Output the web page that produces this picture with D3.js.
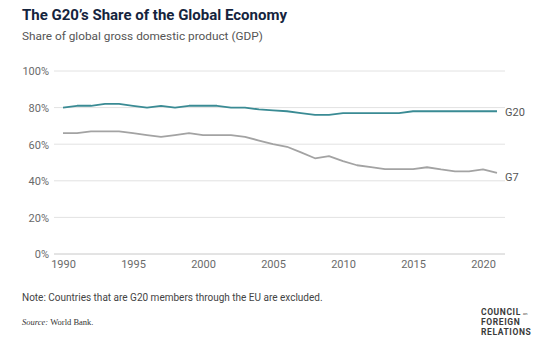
<!DOCTYPE html>
<html>
<head>
<meta charset="utf-8">
<script src="https://cdn.jsdelivr.net/npm/d3@7"></script>
<style>
  body { margin: 0; background: #fff; }
  text { font-family: Roboto, "Open Sans", sans-serif; }
</style>
</head>
<body>
<div id="chart"></div>
<script>
var years = d3.range(1990, 2022);
var g20 = [80, 81, 81, 82, 82, 81, 80, 81, 80, 81, 81, 81, 80, 80, 79, 78.5,
           78, 77, 76, 76, 77, 77, 77, 77, 77, 78, 78, 78, 78, 78, 78, 78];
var g7 = [66, 66, 67, 67, 67, 66, 65, 64, 65, 66, 65, 65, 65, 64, 62, 60,
          58.6, 55.5, 52.3, 53.5, 50.8, 48.5, 47.5, 46.4, 46.4, 46.4, 47.4, 46.2, 45.2, 45.2, 46.2, 44.3];
var yTicks = [0, 20, 40, 60, 80, 100];
var xTicks = [1990, 1995, 2000, 2005, 2010, 2015, 2020];

function init(){
    var w = 554, h = 351;

    var svg = d3.select("#chart")
        .append("svg")
        .attr("width", w)
        .attr("height", h);

    var xScale = d3.scaleLinear()
        .domain([1990, 2020])
        .range([63, 483]);

    var yScale = d3.scaleLinear()
        .domain([0, 100])
        .range([254, 71]);

    // title
    svg.append("text")
        .attr("x", 22).attr("y", 20)
        .style("font-size", "15px")
        .style("font-weight", "700")
        .attr("fill", "#15243d")
        .text("The G20\u2019s Share of the Global Economy");

    svg.append("text")
        .attr("x", 22).attr("y", 40)
        .style("font-size", "11.8px")
        .attr("fill", "#555")
        .text("Share of global gross domestic product (GDP)");

    // grid
    svg.append("g")
        .selectAll("line")
        .data(yTicks)
        .enter().append("line")
        .attr("x1", 54).attr("x2", 505)
        .attr("y1", function(d){ return yScale(d); })
        .attr("y2", function(d){ return yScale(d); })
        .attr("stroke", function(d){ return d == 0 ? "#c8c8c8" : "#e2e2e2"; })
        .attr("stroke-width", 1);

    var yAxis = d3.axisLeft(yScale)
        .tickValues(yTicks)
        .tickSize(0)
        .tickPadding(0)
        .tickFormat(function(d){ return d + "%"; });

    var gy = svg.append("g")
        .attr("transform", "translate(49,0)")
        .call(yAxis);
    gy.select(".domain").remove();
    gy.selectAll("text")
        .style("font-size", "11px")
        .attr("fill", "#6a6a6a")
        .attr("dy", "0.35em");

    var xAxis = d3.axisBottom(xScale)
        .tickValues(xTicks)
        .tickSize(0)
        .tickPadding(0)
        .tickFormat(d3.format("d"));

    var gx = svg.append("g")
        .attr("transform", "translate(0,260)")
        .call(xAxis);
    gx.select(".domain").remove();
    gx.selectAll("text")
        .style("font-size", "11px")
        .attr("fill", "#6a6a6a");

    var line = d3.line()
        .x(function(d, i){ return xScale(years[i]); })
        .y(function(d){ return yScale(d); });

    svg.append("path")
        .datum(g7)
        .attr("fill", "none")
        .attr("stroke", "#a3a3a3")
        .attr("stroke-width", 1.8)
        .attr("stroke-linejoin", "round")
        .attr("d", line);

    svg.append("path")
        .datum(g20)
        .attr("fill", "none")
        .attr("stroke", "#3a8b94")
        .attr("stroke-width", 1.8)
        .attr("stroke-linejoin", "round")
        .attr("d", line);

    svg.append("text")
        .attr("x", 505).attr("y", yScale(g20[g20.length-1]) + 5)
        .style("font-size", "11px")
        .attr("fill", "#555")
        .text("G20");

    svg.append("text")
        .attr("x", 505).attr("y", yScale(g7[g7.length-1]) + 8)
        .style("font-size", "11px")
        .attr("fill", "#555")
        .text("G7");

    // notes
    svg.append("text")
        .attr("x", 22).attr("y", 301)
        .style("font-size", "10px")
        .attr("fill", "#444")
        .text("Note: Countries that are G20 members through the EU are excluded.");

    var src = svg.append("text")
        .attr("x", 22).attr("y", 325)
        .style("font-size", "8.5px")
        .style("font-family", "'Liberation Serif', serif")
        .attr("fill", "#333");
    src.append("tspan").style("font-style", "italic").text("Source: ");
    src.append("tspan").text("World Bank.");

    // logo
    var logo = svg.append("g")
        .attr("transform", "translate(481,0)");
    ["COUNCIL", "FOREIGN", "RELATIONS"].forEach(function(t, i){
        logo.append("text")
            .attr("x", 0).attr("y", 315 + i * 10)
            .style("font-size", "8.5px")
            .style("font-weight", "700")
            .style("letter-spacing", "0.6px")
            .attr("fill", "#3a3a3a")
            .text(t);
    });
    logo.append("text")
        .attr("x", 42).attr("y", 315)
        .style("font-size", "4px")
        .attr("fill", "#3a3a3a")
        .text("on");
}

window.onload = init;
</script>
</body>
</html>
